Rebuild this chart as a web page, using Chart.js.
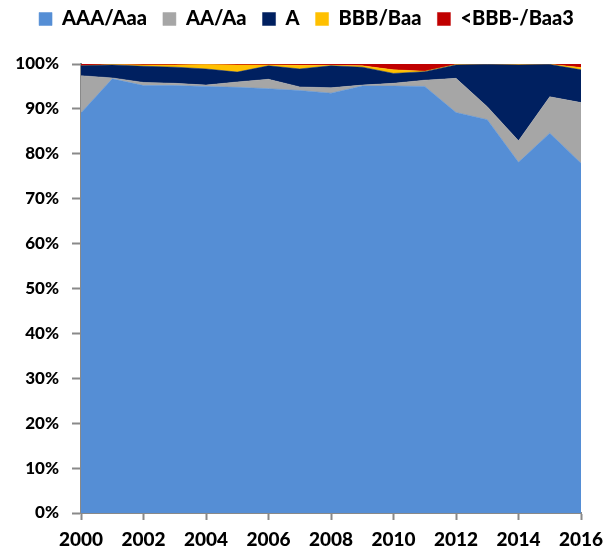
<!DOCTYPE html>
<html>
<head>
<meta charset="utf-8">
<script src="https://cdn.jsdelivr.net/npm/chart.js@4.4.1/dist/chart.umd.min.js"></script>
<style>
  html, body { margin: 0; padding: 0; background: #ffffff; }
  #wrap { width: 603px; height: 553px; position: relative; }
</style>
</head>
<body>
<div id="wrap"><canvas id="c" width="603" height="553"></canvas></div>
<script>
const years = ['2000','2001','2002','2003','2004','2005','2006','2007','2008','2009','2010','2011','2012','2013','2014','2015','2016'];
const seriesNames = ['AAA/Aaa', 'AA/Aa', 'A', 'BBB/Baa', '<BBB-/Baa3'];
const aaa      = [89.1, 96.7, 95.2, 95.2, 95.0, 94.8, 94.5, 94.1, 93.5, 95.1, 95.1, 95.0, 89.2, 87.6, 78.1, 84.6, 77.9];
const aa       = [ 8.3,  0.2,  0.7,  0.5,  0.3,  1.2,  2.1,  0.8,  1.2,  0.2,  0.6,  1.4,  7.6,  2.9,  4.8,  8.1, 13.5];
const a        = [ 2.2,  2.9,  3.6,  3.6,  3.6,  2.2,  3.0,  4.0,  4.9,  4.0,  2.2,  1.9,  3.0,  9.4, 16.9,  7.2,  7.3];
const bbb      = [ 0.0,  0.1,  0.3,  0.5,  1.0,  1.6,  0.2,  0.8,  0.1,  0.3,  0.8,  0.1,  0.1, 0.05,  0.1, 0.05,  0.5];
const belowBbb = [ 0.4,  0.1,  0.2,  0.2,  0.1,  0.2,  0.2,  0.3,  0.3,  0.4,  1.3,  1.6,  0.1, 0.05,  0.1, 0.05,  0.8];
const yTicks = [0, 10, 20, 30, 40, 50, 60, 70, 80, 90, 100];
const colors = ['#558ED5', '#A6A6A6', '#002060', '#FFC000', '#C00000'];

const seriesData = [aaa, aa, a, bbb, belowBbb];
const FONT = 'Lato, "Open Sans", "DejaVu Sans", sans-serif';

const datasets = seriesData.map((d, i) => ({
  label: seriesNames[i],
  data: d,
  backgroundColor: colors[i],
  borderColor: colors[i],
  borderWidth: 0.5,
  pointRadius: 0,
  pointHoverRadius: 0,
  tension: 0,
  fill: i === 0 ? 'origin' : '-1'
}));

// Legend layout tweaks: fixed legend height and slight horizontal shift.
const legendTweak = {
  id: 'legendTweak',
  afterInit(chart) {
    const lg = chart.legend;
    if (!lg) return;
    const origFit = lg.fit.bind(lg);
    lg.fit = function() { origFit(); this.height = 71; };
  },
  afterLayout(chart) {
    const lg = chart.legend;
    if (!lg) return;
    lg.left += 16; lg.right += 16;
  }
};

new Chart(document.getElementById('c'), {
  type: 'line',
  data: { labels: years, datasets: datasets },
  plugins: [legendTweak],
  options: {
    responsive: false,
    animation: false,
    events: [],
    layout: { padding: { top: -7, left: 0, right: 22, bottom: 0 } },
    plugins: {
      tooltip: { enabled: false },
      legend: {
        display: true,
        position: 'top',
        align: 'center',
        labels: {
          boxWidth: 13,
          boxHeight: 13,
          padding: 16,
          color: '#000000',
          font: { family: FONT, size: 20, weight: '900' }
        }
      }
    },
    scales: {
      x: {
        type: 'category',
        offset: false,
        stacked: true,
        grid: {
          display: true,
          drawOnChartArea: false,
          drawTicks: true,
          tickLength: 7,
          tickWidth: 2,
          tickColor: (ctx) => (ctx.index % 2 === 0 ? '#898989' : 'rgba(0,0,0,0)')
        },
        border: { display: true, color: '#898989', width: 2 },
        ticks: {
          autoSkip: false,
          maxRotation: 0,
          padding: 8,
          color: '#000000',
          font: { family: FONT, size: 19, weight: '900' },
          callback: function(value, index) { return index % 2 === 0 ? years[index] : ''; }
        },
        afterFit: (scale) => { scale.height = 40; scale.paddingLeft = 0; scale.paddingRight = 0; }
      },
      y: {
        type: 'linear',
        stacked: true,
        min: 0,
        max: 100,
        afterBuildTicks: (scale) => { scale.ticks = yTicks.map(v => ({ value: v })); },
        grid: {
          display: true,
          drawOnChartArea: false,
          drawTicks: true,
          tickLength: 9,
          tickWidth: 2,
          tickColor: '#898989'
        },
        border: { display: true, color: '#898989', width: 2 },
        ticks: {
          padding: 13,
          color: '#000000',
          font: { family: FONT, size: 17, weight: '900' },
          callback: (v) => v + '%'
        },
        afterFit: (scale) => { scale.width = 81; }
      }
    }
  }
});
</script>
</body>
</html>
